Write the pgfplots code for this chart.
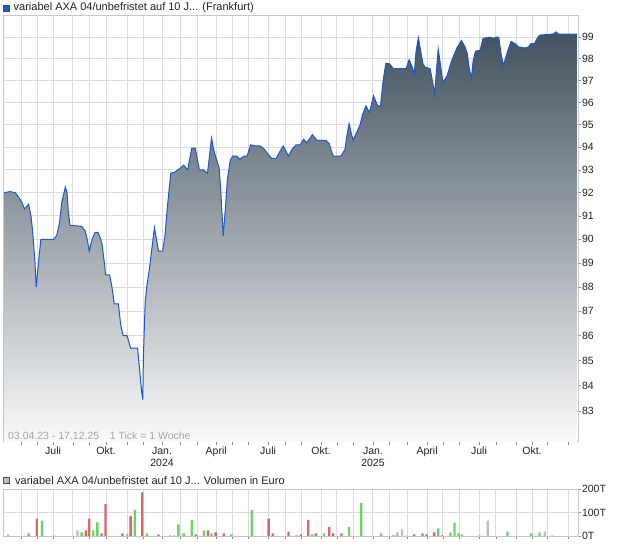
\documentclass[border=0pt]{standalone}
\usepackage{pgfplots}
\pgfplotsset{compat=1.18}
\usepackage{pgfplotstable}
\usepackage{fontspec}
\setmainfont{Liberation Sans}

\definecolor{linie}{RGB}{28,88,204}
\definecolor{gitter}{RGB}{220,220,220}
\definecolor{rahmen}{RGB}{200,200,200}
\definecolor{flaecheoben}{RGB}{66,82,94}
\definecolor{flaecheunten}{RGB}{250,250,250}
\definecolor{vgruen}{RGB}{102,214,102}
\definecolor{vrot}{RGB}{224,102,102}
\definecolor{vgrau}{RGB}{190,190,190}
\definecolor{schrift}{RGB}{34,34,34}

% x = Tage seit 29.03.23 (ca.), y = Kurs
\pgfplotstableread{
x y
5 92.0
15 92.05
24 92.0
30 91.8
35 91.6
40 91.3
47 91.5
51 91.0
54 90.3
58 89.0
60 88.0
62 88.5
65 89.3
68 90.0
90 90.0
95 90.15
100 90.7
104 91.6
110 92.25
113 92.0
115 91.2
118 90.6
138 90.55
144 90.35
148 89.95
151 89.5
156 90.0
161 90.3
166 90.3
170 90.05
173 89.8
177 89.0
179 88.5
186 88.5
190 88.0
194 87.3
201 87.3
205 86.45
209 86.0
216 86.0
222 85.5
234 85.5
237 84.75
241 83.75
243 83.45
244 85.15
247 87.35
250 88.05
254 88.7
258 89.5
263 90.5
270 89.5
277 89.5
281 90.15
285 91.35
291 92.85
298 92.9
306 93.05
313 93.2
320 93.0
327 93.95
333 93.95
340 93.0
347 93.0
354 92.85
361 94.4
365 93.85
370 93.4
374 93.1
377 92.0
381 90.15
385 91.4
388 92.55
393 93.4
397 93.6
404 93.6
410 93.45
416 93.6
422 93.6
428 94.1
436 94.05
444 94.05
450 93.95
456 93.75
464 93.5
472 93.5
477 93.75
484 94.05
493 93.6
499 93.9
506 94.1
513 94.1
519 94.35
524 94.2
529 94.35
534 94.55
542 94.3
550 94.3
557 94.3
563 94.15
567 93.8
570 93.6
583 93.6
590 93.9
593 94.45
597 95.05
600 94.7
604 94.3
610 94.65
616 95.0
620 95.45
626 95.85
632 95.55
639 96.3
646 95.85
651 95.85
655 96.9
660 97.78
666 97.78
673 97.55
681 97.55
695 97.55
700 97.95
705 97.65
709 97.3
712 98.35
716 98.98
720 98.35
724 97.75
728 97.6
736 97.55
740 97.0
744 96.4
747 97.45
750 98.45
753 97.9
758 96.9
765 97.2
773 97.9
782 98.5
790 98.85
796 98.55
800 98.25
803 97.6
807 97.1
810 97.9
814 98.35
822 98.4
827 98.95
839 99.0
845 98.95
850 99.0
854 99.0
858 98.2
862 97.7
867 98.15
871 98.5
875 98.8
882 98.7
888 98.55
899 98.5
905 98.55
909 98.7
915 98.7
919 98.9
924 99.1
948 99.15
952 99.25
956 99.15
988 99.15
}\kurs

% untere Kante der Flaeche
\pgfplotstableread{
x y
988 81.8
5 81.8
}\boden
\pgfplotstablevertcat{\flaeche}{\kurs}
\pgfplotstablevertcat{\flaeche}{\boden}

% Volumen in Tausend Euro
\pgfplotstableread{
x v
47 11
70 65
138 15
158 24
165 58
216 7
229 111
250 11
290 3
304 49
313 11
327 69
348 24
361 11
395 7
430 111
507 3
534 7
554 11
597 39
618 140
652 11
750 32
771 15
778 57
785 11
791 7
821 3
869 19
910 11
924 15
}\volgruen

\pgfplotstableread{
x v
61 74
145 24
151 74
172 11
179 136
208 11
222 86
242 186
270 7
334 7
355 24
368 15
382 11
459 74
466 11
493 19
514 7
527 69
540 11
563 39
570 11
584 11
673 3
709 7
723 11
730 7
743 15
757 3
}\volrot

\pgfplotstableread{
x v
12 7
90 3
131 24
297 3
680 15
688 28
696 3
835 65
933 19
946 3
987 2
}\volgrau

\pgfplotsset{
  kursachse/.style={
    scale only axis,
    xmin=3, xmax=990,
    xtick={34,62,89,123,151,180,216,244,276,307,336,369,396,424,458,487,515,549,576,604,638,666,697,731,758,786,820,849,884,911,938,973},
    grid=major,
    grid style={draw=gitter, line width=0.9pt},
    axis line style={draw=rahmen, line width=0.8pt},
    tick style={draw=black!45, line width=0.6pt},
    tick align=outside,
    major tick length=3pt,
    xtick pos=bottom,
    ytick pos=right,
    yticklabel pos=right,
    tick label style={font=\fontsize{10.5}{12}\selectfont, text=schrift},
    yticklabel style={xshift=-2.5pt},
    /pgf/number format/assume math mode=true,
  }
}

\begin{document}
\begin{tikzpicture}
\path (0pt,0pt) rectangle (620pt,546pt);

\begin{axis}[
  kursachse,
  at={(3pt,104pt)}, anchor=south west,
  width=575pt, height=426pt,
  ymode=log, ymin=81.8, ymax=100,
  ytick={83,84,85,86,87,88,89,90,91,92,93,94,95,96,97,98,99},
  yticklabels={83,84,85,86,87,88,89,90,91,92,93,94,95,96,97,98,99},
  xticklabels={,,Juli,,,Okt.,,,{Jan.\\2024},,,April,,,Juli,,,Okt.,,,{Jan.\\2025},,,April,,,Juli,,,Okt.,,},
  xticklabel style={align=center, yshift=1pt},
]
\addplot[draw=none, top color=flaecheoben, bottom color=flaecheunten] table {\flaeche};
\addplot[linie, line width=1pt, mark=none] table {\kurs};
\end{axis}

\node[anchor=base west, text=black!35, font=\fontsize{10.5}{12}\selectfont, inner sep=0pt]
  at (8pt,107pt) {03.04.23 - 17.12.25\quad 1 Tick = 1 Woche};

\draw[draw=black!70, fill=linie] (3.5pt,535pt) rectangle (9.5pt,541pt);
\node[anchor=base west, text=schrift, font=\fontsize{11}{12}\selectfont, inner sep=0pt]
  at (13.5pt,535pt) {variabel AXA 04/unbefristet auf 10 J... (Frankfurt)};

\begin{axis}[
  kursachse,
  at={(3pt,10pt)}, anchor=south west,
  width=575pt, height=47pt,
  ymin=0, ymax=200,
  ytick={0,100,200},
  yticklabels={0T,100T,200T},
  xticklabels={},
]
\addplot[ybar, bar width=4, bar shift=0pt, fill=vgruen, draw=none] table {\volgruen};
\addplot[ybar, bar width=4, bar shift=0pt, fill=vrot, draw=none] table {\volrot};
\addplot[ybar, bar width=4, bar shift=0pt, fill=vgrau, draw=none] table {\volgrau};
\end{axis}

\draw[draw=black!70, fill=vgrau] (3.5pt,63pt) rectangle (9.5pt,69pt);
\node[anchor=base west, text=schrift, font=\fontsize{11}{12}\selectfont, inner sep=0pt]
  at (15pt,62pt) {variabel AXA 04/unbefristet auf 10 J... Volumen in Euro};
\end{tikzpicture}
\end{document}
